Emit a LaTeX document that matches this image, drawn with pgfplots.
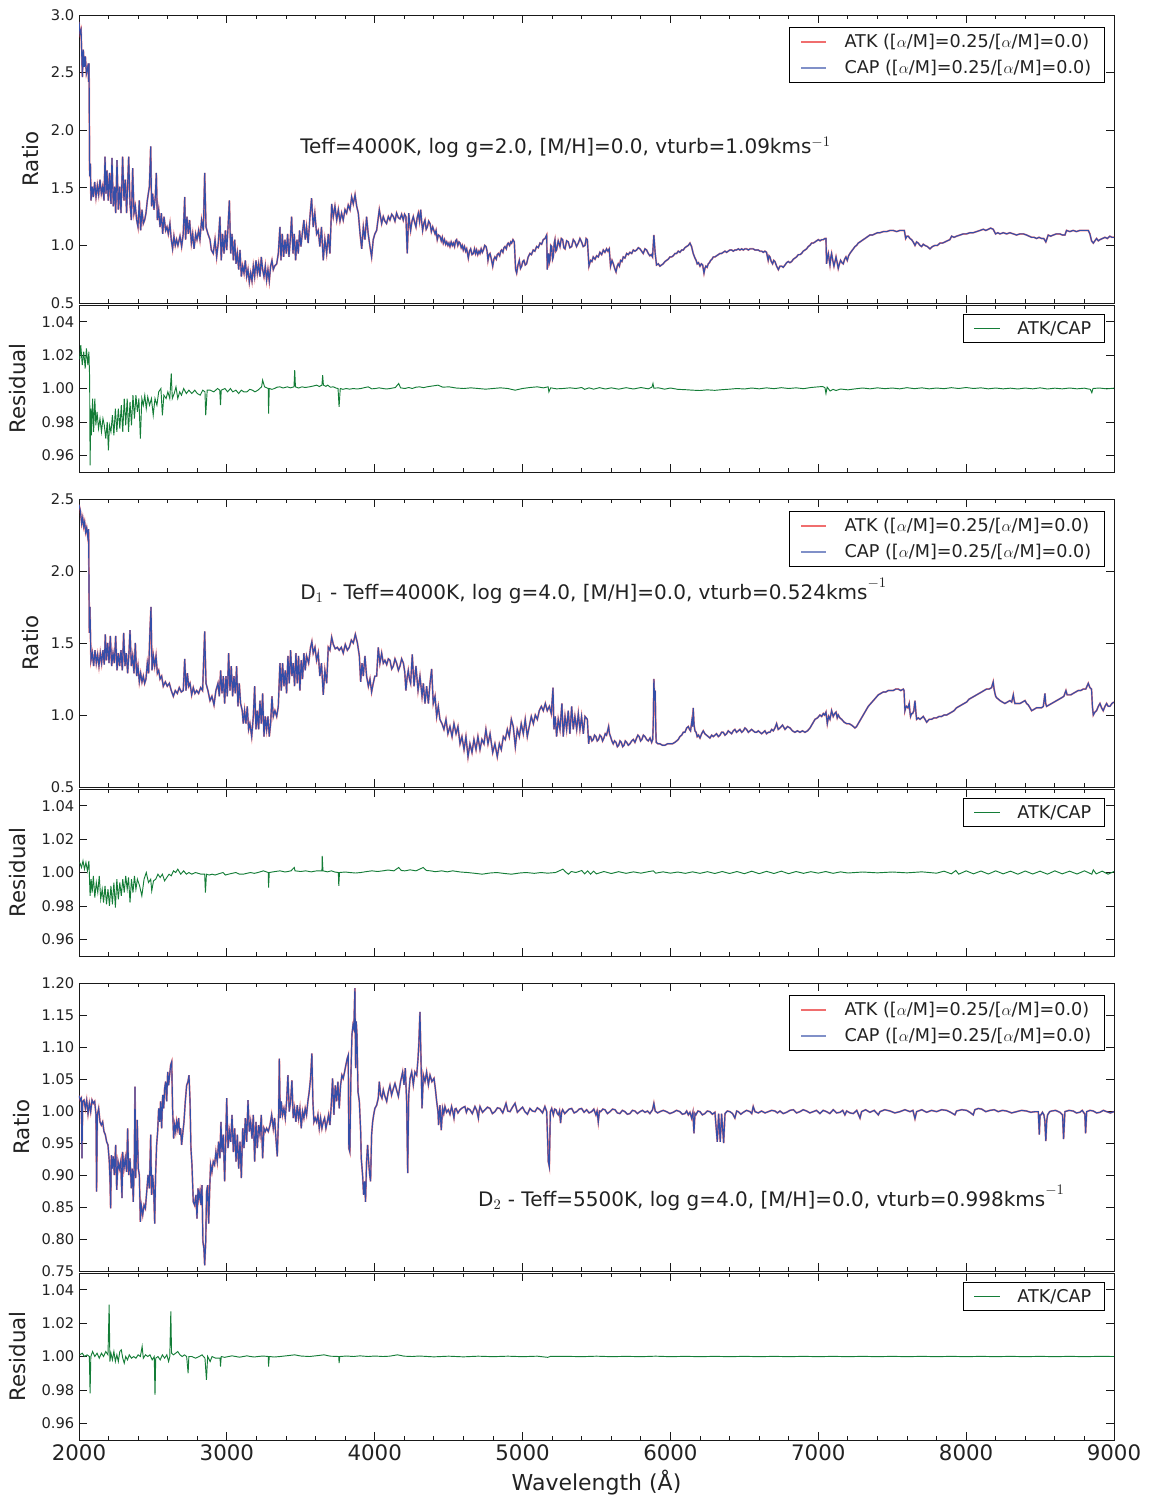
\documentclass[border=0pt]{standalone}
\usepackage{fontspec}
\setmainfont{DejaVu Sans}
\usepackage{pgfplots}
\pgfplotsset{compat=1.18}
\usepackage{pgfplotstable}
\definecolor{atkred}{RGB}{235,40,40}
\definecolor{capblue}{RGB}{52,78,168}
\definecolor{resgreen}{RGB}{20,125,55}
\definecolor{txt}{RGB}{34,34,34}
\definecolor{atklight}{RGB}{240,110,110}
\definecolor{caplight}{RGB}{128,144,200}

% Panel 1: Teff=4000K, log g=2.0
\pgfplotstableread[row sep=\\]{x y\\
2000 2.94\\2007 2.84\\2014 2.87\\2023 2.46\\2029 2.70\\2036 2.55\\2043 2.64\\2050 2.49\\2056 2.52\\2063 2.58\\2065 2.42\\2068 2.58\\2072 1.60\\2077 1.71\\2081 1.39\\2090 1.51\\2097 1.42\\2106 1.55\\2115 1.42\\2124 1.52\\2133 1.44\\2142 1.57\\2151 1.45\\2160 1.51\\2169 1.39\\2176 1.77\\2183 1.45\\2189 1.65\\2198 1.39\\2207 1.63\\2216 1.36\\2223 1.76\\2232 1.34\\2241 1.51\\2248 1.28\\2257 1.74\\2266 1.31\\2275 1.51\\2284 1.28\\2295 1.77\\2304 1.39\\2313 1.57\\2322 1.28\\2336 1.77\\2345 1.36\\2354 1.22\\2363 1.67\\2372 1.28\\2381 1.34\\2390 1.22\\2399 1.16\\2408 1.39\\2417 1.13\\2426 1.31\\2435 1.19\\2444 1.22\\2453 1.28\\2462 1.39\\2476 1.51\\2485 1.86\\2491 1.34\\2498 1.45\\2507 1.31\\2516 1.42\\2523 1.63\\2530 1.22\\2539 1.31\\2548 1.16\\2557 1.28\\2566 1.10\\2575 1.25\\2586 1.13\\2595 1.16\\2604 1.10\\2615 1.19\\2624 1.05\\2633 0.97\\2642 1.08\\2651 1.00\\2660 1.05\\2669 1.00\\2683 1.08\\2694 0.99\\2705 1.10\\2715 1.42\\2721 1.05\\2730 1.25\\2739 1.10\\2748 1.22\\2760 1.02\\2769 1.10\\2778 0.97\\2789 1.10\\2798 1.05\\2809 1.13\\2818 1.05\\2829 1.22\\2841 1.13\\2850 1.63\\2859 1.16\\2872 1.10\\2886 1.05\\2895 0.96\\2908 0.93\\2920 1.05\\2931 0.90\\2942 1.02\\2953 1.25\\2962 0.87\\2971 1.10\\2981 0.93\\2990 1.13\\2999 0.96\\3008 1.16\\3017 1.39\\3026 0.93\\3035 1.10\\3044 0.87\\3053 1.05\\3062 0.84\\3071 0.93\\3080 0.79\\3089 0.96\\3098 0.73\\3107 0.82\\3116 0.76\\3125 0.87\\3134 0.73\\3143 0.79\\3152 0.68\\3161 0.76\\3170 0.69\\3179 0.82\\3188 0.73\\3197 0.87\\3206 0.76\\3215 0.84\\3224 0.73\\3233 0.90\\3242 0.79\\3251 0.73\\3260 0.82\\3269 0.70\\3278 0.79\\3287 0.69\\3296 0.82\\3305 0.87\\3314 0.79\\3323 0.82\\3337 0.84\\3348 0.93\\3359 1.16\\3366 0.87\\3375 1.10\\3384 0.90\\3393 1.05\\3402 0.93\\3411 1.10\\3420 0.90\\3429 1.05\\3438 1.25\\3447 0.93\\3456 1.10\\3465 0.87\\3474 1.05\\3483 0.93\\3492 1.13\\3501 0.99\\3510 1.10\\3521 1.22\\3530 1.05\\3539 1.16\\3550 1.02\\3562 1.25\\3573 1.41\\3584 1.16\\3595 1.28\\3607 1.10\\3618 1.13\\3629 0.99\\3640 1.16\\3652 0.87\\3663 1.05\\3675 0.93\\3686 1.10\\3697 0.93\\3709 1.36\\3720 1.25\\3731 1.34\\3743 1.22\\3754 1.31\\3765 1.21\\3776 1.28\\3787 1.22\\3799 1.31\\3810 1.28\\3821 1.35\\3833 1.31\\3844 1.42\\3855 1.36\\3867 1.44\\3878 1.34\\3889 1.28\\3901 1.10\\3912 0.97\\3923 1.16\\3934 1.05\\3945 1.25\\3956 1.10\\3968 0.99\\3979 0.90\\3990 1.05\\4001 1.10\\4013 1.13\\4031 1.31\\4047 1.19\\4058 1.25\\4069 1.21\\4080 1.19\\4092 1.25\\4103 1.22\\4115 1.27\\4126 1.25\\4137 1.21\\4148 1.28\\4160 1.24\\4171 1.23\\4182 1.27\\
4193 1.22\\4202 1.27\\4211 1.25\\4220 0.93\\4230 1.28\\4236 1.20\\4243 1.13\\4252 1.21\\4261 1.25\\4270 1.20\\4279 1.16\\4287 1.24\\4295 1.28\\4303 1.21\\4311 1.31\\4318 1.20\\4324 1.13\\4332 1.19\\4340 1.22\\4348 1.14\\4356 1.16\\4365 1.21\\4374 1.19\\4383 1.12\\4392 1.16\\4400 1.13\\4408 1.10\\4415 1.13\\4423 1.05\\4431 1.09\\4441 1.08\\4450 1.04\\4457 1.07\\4464 1.02\\4472 1.05\\4480 1.01\\4487 1.03\\4495 1.00\\4502 1.02\\4509 0.99\\4517 1.03\\4525 1.00\\4532 1.02\\4540 0.99\\4547 1.04\\4554 1.05\\4562 1.00\\4570 1.03\\4577 1.02\\4585 0.98\\4592 1.00\\4599 0.96\\4607 0.99\\4615 0.95\\4622 0.97\\4633 0.89\\4641 0.95\\4649 0.97\\4658 0.92\\4667 0.93\\4675 0.97\\4682 0.93\\4689 0.96\\4697 0.92\\4705 0.95\\4712 0.93\\4720 0.97\\4728 0.94\\4735 0.96\\4744 1.00\\4753 0.99\\4760 0.95\\4766 0.87\\4773 0.92\\4780 0.93\\4789 0.88\\4798 0.82\\4806 0.88\\4813 0.90\\4822 0.88\\4829 0.92\\4836 0.93\\4845 0.91\\4852 0.95\\4858 0.96\\4867 0.94\\4874 0.98\\4881 0.99\\4890 0.97\\4897 1.01\\4903 1.02\\4912 1.00\\4920 1.03\\4926 1.02\\4935 1.05\\4944 1.03\\4953 0.79\\4960 0.76\\4969 0.83\\4978 0.87\\4986 0.80\\4994 0.82\\5001 0.86\\5009 0.87\\5018 0.83\\5027 0.84\\5038 0.90\\5050 0.93\\5060 0.92\\5072 0.96\\5083 0.95\\5095 0.99\\5106 0.98\\5118 1.02\\5129 1.01\\5140 1.05\\5152 1.06\\5163 1.09\\5167 0.79\\5172 0.88\\5176 0.93\\5181 0.85\\5185 0.87\\5191 1.00\\5197 0.99\\5203 0.88\\5208 0.90\\5214 1.02\\5219 1.05\\5225 0.95\\5230 0.96\\5241 1.04\\5253 0.99\\5262 1.06\\5271 1.05\\5279 0.98\\5287 0.97\\5298 1.04\\5309 1.03\\5320 0.98\\5332 0.99\\5343 1.05\\5354 1.03\\5365 0.99\\5377 1.02\\5388 1.06\\5399 1.03\\5410 0.99\\5422 1.00\\5430 1.06\\5438 1.05\\5449 0.82\\5460 0.87\\5469 0.86\\5478 0.90\\5490 0.88\\5501 0.91\\5512 0.90\\5523 0.94\\5535 0.92\\5546 0.96\\5557 0.94\\5568 0.97\\5577 0.95\\5586 0.97\\5595 0.82\\5605 0.87\\5614 0.84\\5623 0.80\\5632 0.77\\5640 0.82\\5647 0.84\\5655 0.82\\5663 0.87\\5672 0.86\\5681 0.90\\5692 0.89\\5704 0.93\\5715 0.92\\5726 0.94\\5738 0.93\\5749 0.96\\5760 0.95\\5771 0.96\\5783 0.98\\5794 0.97\\5805 0.95\\5816 0.93\\5828 0.97\\5839 0.96\\5850 0.93\\5861 0.91\\5870 0.92\\5879 0.90\\5888 1.09\\5897 0.93\\5906 0.83\\5918 0.84\\5929 0.82\\5940 0.83\\5951 0.84\\5963 0.86\\5974 0.87\\5985 0.88\\5997 0.90\\6008 0.90\\6019 0.91\\6031 0.93\\6042 0.93\\6053 0.95\\6064 0.94\\6076 0.96\\6087 0.96\\6098 0.98\\6109 0.99\\6121 1.00\\6132 1.02\\6143 0.99\\6154 0.93\\6160 0.91\\6166 0.89\\6174 0.87\\6181 0.84\\6190 0.85\\6200 0.82\\6209 0.84\\6218 0.83\\6227 0.76\\6233 0.80\\6240 0.82\\6248 0.81\\6256 0.84\\6264 0.85\\6272 0.87\\6281 0.88\\6290 0.90\\6301 0.90\\6312 0.91\\6324 0.92\\6335 0.93\\6346 0.93\\6357 0.94\\6369 0.95\\6380 0.94\\6391 0.95\\6402 0.96\\6414 0.96\\6425 0.95\\6436 0.96\\6447 0.96\\6459 0.97\\6470 0.96\\6482 0.97\\6493 0.96\\6504 0.97\\6515 0.97\\6527 0.96\\6538 0.97\\6549 0.97\\6560 0.97\\6572 0.96\\6583 0.96\\6594 0.96\\6605 0.95\\6617 0.95\\6628 0.94\\6639 0.95\\6650 0.94\\6661 0.87\\6667 0.91\\6673 0.90\\6682 0.86\\6691 0.84\\6699 0.87\\6707 0.86\\6718 0.82\\
6730 0.79\\6741 0.82\\6752 0.82\\6763 0.81\\6775 0.83\\6786 0.85\\6797 0.86\\6808 0.85\\6820 0.86\\6831 0.88\\6842 0.89\\6853 0.90\\6865 0.92\\6876 0.92\\6887 0.93\\6898 0.95\\6910 0.96\\6921 0.97\\6932 0.99\\6943 1.00\\6955 1.02\\6966 1.02\\6978 1.03\\6989 1.04\\7000 1.05\\7012 1.04\\7023 1.05\\7034 1.05\\7045 1.06\\7052 1.06\\7056 0.84\\7062 0.90\\7068 0.93\\7073 0.88\\7079 0.83\\7085 0.90\\7090 0.93\\7098 0.87\\7106 0.82\\7113 0.86\\7120 0.90\\7128 0.85\\7135 0.80\\7143 0.84\\7151 0.87\\7160 0.85\\7169 0.84\\7178 0.88\\7187 0.90\\7196 0.87\\7205 0.91\\7214 0.93\\7225 0.95\\7237 0.97\\7248 0.99\\7259 1.00\\7270 1.02\\7282 1.03\\7293 1.04\\7304 1.05\\7316 1.06\\7327 1.07\\7338 1.08\\7349 1.09\\7366 1.09\\7383 1.10\\7400 1.11\\7417 1.11\\7440 1.12\\7462 1.12\\7485 1.13\\7507 1.13\\7530 1.12\\7552 1.13\\7567 1.13\\7582 1.13\\7591 1.06\\7600 1.08\\7609 1.08\\7620 1.06\\7631 1.05\\7642 1.03\\7654 1.00\\7665 1.03\\7676 1.02\\7688 1.00\\7699 0.99\\7710 1.01\\7721 1.00\\7738 0.99\\7755 0.97\\7772 0.99\\7789 1.00\\7806 1.00\\7823 1.02\\7840 1.02\\7857 1.03\\7873 1.04\\7890 1.05\\7902 1.08\\7918 1.07\\7935 1.08\\7958 1.09\\7981 1.10\\8003 1.10\\8026 1.11\\8048 1.11\\8071 1.12\\8094 1.13\\8116 1.14\\8133 1.13\\8150 1.14\\8166 1.15\\8183 1.14\\8199 1.10\\8214 1.11\\8229 1.10\\8251 1.11\\8274 1.10\\8296 1.11\\8319 1.10\\8341 1.09\\8364 1.10\\8386 1.10\\8409 1.09\\8426 1.08\\8443 1.07\\8460 1.07\\8476 1.06\\8493 1.07\\8510 1.06\\8525 1.06\\8539 1.03\\8555 1.09\\8572 1.08\\8589 1.09\\8611 1.10\\8634 1.10\\8651 1.09\\8668 1.09\\8679 1.13\\8701 1.12\\8724 1.13\\8746 1.12\\8769 1.13\\8797 1.13\\8826 1.13\\8837 1.10\\8848 1.04\\8860 1.02\\8871 1.04\\8882 1.06\\8894 1.04\\8905 1.05\\8922 1.06\\8939 1.07\\8955 1.06\\8972 1.08\\8987 1.07\\9002 1.07\\
}\tA

% Panel 2: residual ATK/CAP
\pgfplotstableread[row sep=\\]{x y\\
2005 1.0176\\2012 1.026\\2022 1.014\\2032 1.022\\2042 1.012\\2050 1.024\\2060 1.014\\2067 1.022\\2072 1.006\\2075 0.954\\2080 0.988\\2084 0.972\\2092 0.994\\2099 0.974\\2107 0.994\\2114 0.978\\2122 0.986\\2132 0.976\\2142 0.982\\2152 0.974\\2162 0.982\\2171 0.978\\2181 0.970\\2191 0.980\\2199 0.963\\2206 0.978\\2216 0.974\\2226 0.984\\2236 0.972\\2246 0.988\\2256 0.974\\2266 0.988\\2276 0.976\\2286 0.990\\2296 0.974\\2306 0.994\\2316 0.978\\2326 0.994\\2335 0.974\\2345 0.992\\2355 0.978\\2365 0.996\\2375 0.982\\2385 0.996\\2395 0.986\\2405 0.994\\2415 0.970\\2425 0.994\\2435 0.990\\2445 0.996\\2455 0.988\\2465 0.995\\2477 0.990\\2490 0.994\\2502 0.984\\2514 0.994\\2527 0.990\\2539 0.998\\2554 1.000\\2564 0.984\\2574 0.996\\2589 0.994\\2601 0.998\\2614 0.994\\2624 1.009\\2631 0.994\\2644 0.997\\2656 1.001\\2668 0.994\\2681 0.998\\2693 0.996\\2708 1.000\\2726 0.997\\2743 0.999\\2763 0.997\\2783 0.999\\2800 0.997\\2820 0.996\\2837 0.999\\2852 0.998\\2857 0.984\\2867 0.999\\2887 0.999\\2912 0.998\\2937 1.000\\2952 0.999\\2957 0.990\\2962 0.999\\2987 1.000\\3005 0.998\\3024 1.000\\3040 0.998\\3061 0.999\\3080 0.997\\3098 0.999\\3115 0.998\\3136 0.998\\3155 0.9995\\3173 0.999\\3190 0.998\\3210 0.999\\3235 1.001\\3242 1.005\\3255 1.001\\3280 1.000\\3282 0.985\\3287 1.000\\3305 0.9995\\3322 1.000\\3340 1.0008\\3359 1.001\\3380 1.0003\\3409 1.001\\3430 1.0004\\3454 1.001\\3459 1.011\\3464 1.001\\3485 1.0003\\3508 1.001\\3530 1.0006\\3558 1.001\\3585 1.0015\\3608 1.002\\3625 1.0012\\3643 1.002\\3648 1.008\\3653 1.002\\3670 1.0013\\3682 1.002\\3700 1.0008\\3720 1.001\\3740 1.0002\\3752 1.000\\3759 0.989\\3767 1.000\\3785 0.9995\\3807 1.000\\3830 0.9996\\3856 1.000\\3880 0.9997\\3906 1.000\\3930 1.0005\\3956 1.001\\3980 0.9998\\4005 1.000\\4030 1.0004\\4055 1.000\\4080 0.9997\\4105 1.000\\4140 1.0006\\4162 1.003\\4175 1.0004\\4204 1.000\\4230 1.0006\\4254 1.000\\4280 1.0008\\4304 1.001\\4330 1.0005\\4353 1.001\\4390 1.0015\\4428 1.002\\4460 1.0008\\4502 1.001\\4550 1.0003\\4602 1.000\\4650 1.0004\\4701 1.000\\4750 0.9996\\4800 1.000\\4850 1.0004\\4900 1.000\\4950 0.999\\4999 1.000\\5050 1.0006\\5099 1.001\\5140 1.0004\\5173 1.001\\5178 0.998\\5190 1.0004\\5230 0.9998\\5273 1.000\\5320 1.0004\\5360 1.000\\
5400 1.0006\\5420 0.9995\\5450 1.0004\\5480 0.9996\\5520 1.0005\\5560 0.9997\\5600 1.0004\\5650 0.9996\\5700 1.0005\\5750 0.9997\\5800 1.0006\\5850 0.9998\\5875 1.0008\\5882 1.003\\5888 1.0002\\5920 1.0004\\5960 0.9996\\6000 1.0003\\6050 0.9995\\6100 0.9993\\6150 0.9990\\6200 0.9988\\6250 0.9992\\6300 0.9989\\6350 0.9993\\6400 0.9996\\6450 1.0000\\6500 0.9997\\6550 1.0003\\6600 0.9998\\6650 1.0004\\6700 0.9999\\6750 1.0005\\6800 1.0000\\6850 1.0004\\6900 0.9999\\6950 1.0006\\7000 1.0010\\7030 1.0012\\7045 1.0005\\7052 0.9970\\7060 1.0008\\7080 0.9985\\7100 0.9995\\7120 0.9988\\7150 0.9997\\7200 0.9992\\7250 0.9998\\7300 1.0003\\7350 0.9998\\7400 1.0004\\7450 0.9999\\7500 1.0003\\7550 0.9998\\7600 1.0005\\7650 0.9999\\7700 1.0004\\7750 0.9998\\7800 1.0003\\7850 0.9999\\7900 1.0005\\7950 1.0000\\8000 1.0006\\8050 1.0000\\8100 1.0004\\8150 0.9998\\8200 1.0003\\8250 0.9998\\8300 1.0002\\8350 0.9997\\8400 1.0003\\8450 0.9998\\8500 1.0004\\8550 0.9997\\8600 1.0002\\8650 0.9998\\8700 1.0003\\8750 0.9998\\8800 1.0002\\8840 0.9995\\8850 0.9975\\8858 1.0000\\8900 1.0003\\8950 0.9998\\9000 1.0002\\
}\tB

% Panel 3: D1 - Teff=4000K, log g=4.0
\pgfplotstableread[row sep=\\]{x y\\
2000 2.46\\2009 2.42\\2018 2.33\\2025 2.37\\2032 2.31\\2038 2.34\\2045 2.27\\2052 2.30\\2059 2.24\\2065 2.29\\2070 1.57\\2074 1.75\\2081 1.38\\2090 1.43\\2099 1.34\\2108 1.45\\2117 1.36\\2126 1.42\\2135 1.34\\2144 1.43\\2153 1.36\\2162 1.45\\2171 1.35\\2178 1.56\\2185 1.38\\2194 1.50\\2203 1.36\\2212 1.55\\2221 1.34\\2230 1.43\\2239 1.36\\2248 1.55\\2257 1.31\\2266 1.43\\2275 1.34\\2284 1.45\\2293 1.31\\2302 1.57\\2311 1.34\\2320 1.43\\2329 1.29\\2338 1.43\\2345 1.59\\2354 1.34\\2363 1.41\\2372 1.29\\2381 1.50\\2390 1.27\\2399 1.34\\2408 1.23\\2417 1.29\\2426 1.23\\2435 1.27\\2444 1.22\\2453 1.25\\2462 1.36\\2471 1.29\\2480 1.59\\2487 1.75\\2494 1.31\\2503 1.41\\2512 1.34\\2521 1.41\\2530 1.29\\2539 1.31\\2548 1.25\\2559 1.27\\2570 1.20\\2584 1.23\\2597 1.20\\2611 1.22\\2624 1.17\\2638 1.13\\2651 1.17\\2665 1.15\\2678 1.19\\2692 1.16\\2705 1.17\\2715 1.39\\2724 1.17\\2733 1.29\\2742 1.20\\2751 1.22\\2762 1.14\\2773 1.19\\2784 1.15\\2796 1.17\\2809 1.15\\2823 1.19\\2836 1.17\\2850 1.58\\2859 1.22\\2872 1.17\\2886 1.10\\2899 1.13\\2913 1.07\\2926 1.17\\2940 1.22\\2949 1.13\\2958 1.31\\2967 1.15\\2976 1.27\\2985 1.08\\2994 1.27\\3003 1.13\\3012 1.43\\3021 1.17\\3030 1.34\\3039 1.13\\3048 1.27\\3057 1.15\\3066 1.34\\3075 1.06\\3084 1.22\\3093 1.08\\3104 1.03\\3111 0.94\\3120 1.03\\3129 0.94\\3138 1.06\\3147 0.90\\3156 0.94\\3168 0.85\\3179 0.99\\3188 1.20\\3197 0.90\\3206 1.03\\3215 0.90\\3224 1.10\\3233 0.94\\3242 1.15\\3251 0.85\\3260 0.99\\3269 0.90\\3278 0.99\\3287 0.85\\3296 0.94\\3305 1.13\\3314 0.99\\3325 1.03\\3337 0.99\\3348 1.06\\3359 1.36\\3368 1.17\\3377 1.36\\3386 1.20\\3395 1.31\\3404 1.15\\3413 1.41\\3422 1.22\\3431 1.45\\3440 1.27\\3449 1.36\\3458 1.20\\3467 1.43\\3476 1.22\\3485 1.41\\3494 1.17\\3503 1.38\\3512 1.25\\3521 1.43\\3530 1.31\\3539 1.41\\3553 1.36\\3566 1.47\\3575 1.51\\3584 1.43\\3596 1.47\\3607 1.38\\3618 1.43\\3629 1.27\\3640 1.36\\3652 1.14\\3663 1.31\\3675 1.22\\3686 1.47\\3697 1.45\\3709 1.54\\3720 1.49\\3733 1.46\\3747 1.47\\3760 1.45\\3774 1.47\\3787 1.43\\3801 1.49\\3815 1.45\\3828 1.47\\3842 1.52\\3855 1.50\\3869 1.56\\3883 1.50\\3896 1.41\\3905 1.23\\3914 1.36\\3923 1.27\\3934 1.41\\3945 1.27\\3957 1.20\\3968 1.25\\3979 1.16\\3990 1.22\\4001 1.27\\4013 1.27\\4024 1.47\\4035 1.36\\4047 1.43\\4058 1.36\\4069 1.38\\4081 1.35\\4092 1.39\\4103 1.38\\4115 1.32\\4126 1.34\\4137 1.39\\4148 1.36\\4160 1.31\\
4171 1.34\\4182 1.39\\4194 1.36\\4203 1.30\\4211 1.17\\4219 1.26\\4227 1.31\\4235 1.25\\4243 1.22\\4254 1.42\\4266 1.20\\4279 1.34\\4293 1.17\\4306 1.27\\4320 1.13\\4329 1.22\\4340 1.08\\4351 1.20\\4363 1.08\\4374 1.22\\4385 1.32\\4396 1.08\\4408 1.13\\4419 0.99\\4430 1.06\\4441 0.97\\4455 0.94\\4468 0.90\\4482 0.97\\4495 0.87\\4509 0.92\\4523 0.85\\4536 0.94\\4550 0.87\\4563 0.92\\4577 0.80\\4590 0.85\\4604 0.76\\4617 0.85\\4631 0.71\\4644 0.80\\4658 0.74\\4671 0.83\\4685 0.76\\4698 0.85\\4712 0.76\\4725 0.83\\4739 0.80\\4752 0.90\\4766 0.80\\4780 0.87\\4798 0.74\\4813 0.80\\4829 0.71\\4843 0.80\\4856 0.76\\4870 0.85\\4883 0.83\\4897 0.90\\4910 0.85\\4924 0.97\\4937 0.92\\4951 0.78\\4964 0.90\\4978 0.85\\4991 0.94\\5005 0.87\\5018 0.97\\5032 0.85\\5045 0.92\\5059 0.99\\5073 0.94\\5086 1.00\\5100 0.97\\5113 1.03\\5127 1.06\\5140 1.03\\5154 1.08\\5167 1.03\\5181 1.06\\5194 1.01\\5206 1.19\\5212 0.90\\5221 0.99\\5230 0.85\\5241 0.97\\5253 0.90\\5266 1.08\\5275 0.85\\5287 0.99\\5298 0.90\\5309 1.03\\5320 0.87\\5332 1.06\\5343 0.90\\5354 0.99\\5366 0.90\\5377 1.01\\5388 0.90\\5399 0.99\\5411 0.87\\5422 0.99\\5438 0.97\\5447 0.80\\5453 0.85\\5460 0.85\\5469 0.82\\5478 0.83\\5487 0.86\\5496 0.85\\5505 0.82\\5514 0.83\\5523 0.86\\5532 0.85\\5541 0.82\\5550 0.84\\5559 0.87\\5568 0.86\\5575 0.89\\5582 0.92\\5588 0.87\\5595 0.85\\5604 0.82\\5613 0.80\\5622 0.82\\5632 0.81\\5641 0.78\\5650 0.79\\5659 0.82\\5668 0.81\\5677 0.78\\5686 0.79\\5695 0.82\\5704 0.81\\5715 0.79\\5726 0.80\\5738 0.82\\5749 0.83\\5760 0.81\\5771 0.84\\5780 0.86\\5789 0.85\\5798 0.82\\5807 0.83\\5817 0.86\\5828 0.85\\5839 0.83\\5850 0.82\\5862 0.84\\5873 0.81\\5880 0.83\\5884 0.94\\5888 1.25\\5893 1.10\\5897 1.17\\5901 0.90\\5904 0.81\\5916 0.80\\5929 0.80\\5946 0.79\\5963 0.79\\5980 0.80\\5997 0.80\\6013 0.80\\6030 0.81\\6042 0.82\\6053 0.83\\6064 0.85\\6076 0.86\\6087 0.88\\6098 0.88\\6110 0.91\\6121 0.92\\6129 0.90\\6136 0.89\\6145 0.96\\6150 0.92\\6154 1.05\\6160 0.93\\6166 0.89\\6174 0.88\\6181 0.85\\6190 0.86\\6200 0.84\\6211 0.87\\6222 0.89\\6233 0.87\\6244 0.86\\6256 0.85\\6267 0.84\\6279 0.86\\6290 0.85\\6301 0.86\\6312 0.87\\6324 0.85\\6335 0.86\\6346 0.88\\6357 0.88\\6369 0.86\\6380 0.87\\6391 0.89\\6402 0.88\\6414 0.87\\6425 0.89\\6436 0.90\\6447 0.88\\6459 0.89\\6470 0.90\\6482 0.88\\6493 0.89\\6504 0.91\\6515 0.90\\6527 0.88\\6538 0.89\\6549 0.90\\6560 0.89\\6572 0.88\\6583 0.88\\6594 0.89\\6605 0.88\\6617 0.87\\6628 0.88\\6639 0.89\\6650 0.87\\6662 0.88\\6673 0.88\\6685 0.90\\6696 0.89\\6707 0.91\\6718 0.94\\
6729 0.90\\6741 0.91\\6758 0.93\\6775 0.90\\6792 0.92\\6809 0.91\\6825 0.89\\6842 0.88\\6859 0.89\\6876 0.88\\6893 0.89\\6910 0.88\\6927 0.89\\6944 0.91\\6961 0.94\\6978 0.97\\6995 0.98\\7011 1.00\\7023 0.99\\7034 1.01\\7043 1.00\\7052 1.02\\7061 0.94\\7070 0.99\\7079 0.97\\7090 1.03\\7101 0.99\\7111 1.01\\7120 1.02\\7128 0.98\\7135 1.00\\7146 0.98\\7158 0.97\\7175 0.95\\7192 0.94\\7208 0.94\\7225 0.93\\7237 0.92\\7248 0.91\\7259 0.92\\7270 0.94\\7287 0.97\\7304 1.00\\7321 1.03\\7338 1.06\\7355 1.08\\7372 1.10\\7389 1.12\\7406 1.14\\7423 1.15\\7440 1.16\\7457 1.16\\7473 1.17\\7490 1.17\\7507 1.17\\7524 1.18\\7541 1.18\\7558 1.17\\7575 1.18\\7580 1.17\\7586 1.03\\7591 1.05\\7597 1.06\\7606 1.05\\7615 1.08\\7620 1.02\\7624 0.99\\7631 1.01\\7638 1.01\\7646 1.03\\7654 1.10\\7660 1.02\\7665 0.97\\7676 0.98\\7688 0.97\\7699 0.98\\7710 0.99\\7722 0.97\\7733 0.95\\7750 0.97\\7766 0.97\\7783 0.98\\7800 0.98\\7817 0.99\\7834 0.99\\7851 1.00\\7868 1.00\\7885 1.01\\7902 1.02\\7918 1.03\\7935 1.05\\7952 1.06\\7969 1.07\\7986 1.08\\8003 1.09\\8020 1.11\\8037 1.12\\8054 1.13\\8071 1.14\\8088 1.15\\8105 1.16\\8121 1.17\\8138 1.18\\8155 1.18\\8172 1.19\\8183 1.23\\8189 1.18\\8195 1.15\\8200 1.13\\8206 1.12\\8218 1.11\\8229 1.10\\8245 1.09\\8262 1.08\\8279 1.09\\8296 1.10\\8308 1.09\\8319 1.14\\8325 1.10\\8330 1.08\\8347 1.08\\8364 1.08\\8381 1.09\\8398 1.10\\8409 1.08\\8420 1.07\\8432 1.05\\8443 1.03\\8460 1.04\\8476 1.05\\8493 1.05\\8510 1.05\\8522 1.06\\8533 1.15\\8538 1.08\\8544 1.06\\8561 1.07\\8578 1.08\\8595 1.09\\8612 1.10\\8629 1.11\\8646 1.12\\8661 1.13\\8675 1.17\\8683 1.14\\8691 1.14\\8708 1.14\\8724 1.15\\8741 1.16\\8758 1.17\\8775 1.17\\8792 1.18\\8809 1.18\\8826 1.22\\8837 1.19\\8848 1.18\\8854 1.06\\8860 1.00\\8871 1.02\\8882 1.03\\8894 1.06\\8905 1.08\\8916 1.05\\8927 1.03\\8939 1.06\\8950 1.08\\8961 1.06\\8972 1.06\\8986 1.08\\8999 1.09\\
}\tC

% Panel 4: residual ATK/CAP
\pgfplotstableread[row sep=\\]{x y\\
2005 1.006\\2017 1.003\\2027 1.007\\2037 1.002\\2047 1.006\\2057 1.001\\2067 1.007\\2075 0.986\\2082 0.996\\2089 0.988\\2097 0.998\\2107 0.985\\2117 0.994\\2127 0.988\\2137 0.998\\2147 0.984\\2157 0.990\\2166 0.982\\2176 0.992\\2186 0.981\\2196 0.990\\2206 0.980\\2216 0.992\\2226 0.981\\2236 0.994\\2246 0.979\\2256 0.996\\2266 0.984\\2276 0.994\\2286 0.986\\2296 0.996\\2306 0.988\\2316 0.998\\2326 0.990\\2335 0.997\\2345 0.982\\2355 0.996\\2365 0.988\\2375 0.998\\2385 0.990\\2395 0.996\\2410 0.992\\2425 0.986\\2440 0.996\\2455 1.000\\2470 0.994\\2485 0.996\\2492 0.989\\2504 0.995\\2519 0.996\\2534 0.999\\2549 0.997\\2564 0.999\\2579 0.995\\2594 0.997\\2609 0.999\\2624 0.998\\2639 1.001\\2654 1.000\\2668 1.002\\2688 0.999\\2708 1.001\\2726 0.999\\2743 1.000\\2763 0.999\\2788 1.000\\2825 0.999\\2850 0.999\\2855 0.988\\2862 0.999\\2880 0.9985\\2900 0.999\\2920 0.9985\\2937 0.999\\2955 0.9995\\2974 1.000\\2990 0.9985\\3011 0.999\\3035 0.9995\\3061 1.000\\3085 0.999\\3111 0.999\\3135 0.9995\\3160 1.000\\3185 0.9995\\3210 1.000\\3247 1.001\\3280 1.000\\3282 0.991\\3287 1.000\\3320 1.0005\\3359 1.001\\3395 1.0003\\3434 1.001\\3456 1.003\\3461 1.001\\3500 1.0006\\3533 1.001\\3570 1.0004\\3608 1.001\\3643 1.001\\3645 1.010\\3650 1.001\\3680 1.0004\\3707 1.001\\3730 1.0003\\3754 1.000\\3757 0.992\\3762 1.000\\3800 1.0003\\3831 1.000\\3870 0.9997\\3906 1.000\\3940 1.0005\\3981 1.001\\4020 1.0006\\4055 1.001\\4090 1.0015\\4130 1.001\\4162 1.003\\4180 1.0012\\4204 1.001\\4240 1.0016\\4279 1.001\\4328 1.003\\4350 1.0012\\4378 1.001\\4410 1.0005\\4453 1.001\\4490 1.0004\\4527 1.001\\4580 1.0003\\4627 1.000\\4680 0.9995\\4726 0.999\\4780 0.9997\\4826 1.000\\4880 0.9994\\4925 0.999\\4980 0.9997\\5024 1.000\\5080 0.9995\\5124 1.000\\5170 0.9996\\5223 1.000\\5273 1.002\\5290 1.0004\\5310 0.999\\5330 1.0006\\5360 1.000\\
5400 1.0012\\5420 0.9992\\5440 1.0010\\5460 0.9990\\5480 1.0008\\5500 0.9992\\5550 1.0006\\5600 0.9994\\5650 1.0005\\5700 0.9995\\5750 1.0004\\5800 0.9996\\5850 1.0005\\5885 1.0010\\5900 0.9996\\5950 1.0004\\6000 0.9996\\6050 1.0003\\6100 0.9995\\6150 1.0004\\6200 0.9995\\6250 1.0005\\6300 0.9994\\6350 1.0006\\6400 0.9994\\6450 1.0006\\6500 0.9993\\6550 1.0008\\6600 0.9993\\6650 1.0007\\6700 0.9994\\6750 1.0008\\6800 0.9993\\6850 1.0006\\6900 0.9995\\6950 1.0005\\7000 0.9996\\7050 1.0006\\7100 0.9995\\7150 1.0004\\7200 0.9997\\7300 1.0003\\7400 0.9998\\7500 1.0003\\7600 0.9998\\7700 1.0004\\7800 0.9996\\7850 1.0008\\7900 0.9992\\7930 1.0012\\7950 0.9990\\8000 1.0010\\8050 0.9992\\8100 1.0009\\8150 0.9991\\8200 1.0010\\8250 0.9992\\8300 1.0008\\8350 0.9990\\8400 1.0009\\8450 0.9991\\8500 1.0008\\8550 0.9990\\8600 1.0010\\8650 0.9992\\8700 1.0008\\8750 0.9991\\8800 1.0010\\8850 0.9990\\8860 1.0016\\8880 0.9992\\8920 1.0008\\8960 0.9990\\9000 1.0006\\
}\tD

% Panel 5: D2 - Teff=5500K, log g=4.0
\pgfplotstableread[row sep=\\]{x y\\
2000 1.024\\2009 1.017\\2016 1.020\\2020 0.926\\2025 1.015\\2034 1.017\\2043 1.004\\2052 1.017\\2061 0.996\\2070 1.012\\2079 0.999\\2088 1.017\\2097 1.012\\2106 1.015\\2115 0.994\\2119 0.874\\2124 0.994\\2133 1.004\\2142 0.983\\2151 0.978\\2160 0.983\\2169 0.968\\2178 0.963\\2187 0.952\\2196 0.947\\2205 0.921\\2210 0.890\\2214 0.848\\2219 0.931\\2225 0.910\\2232 0.929\\2239 0.900\\2248 0.947\\2255 0.877\\2264 0.921\\2273 0.910\\2282 0.921\\2291 0.864\\2295 0.936\\2304 0.910\\2313 0.926\\2322 0.905\\2329 0.973\\2336 0.900\\2345 0.926\\2354 0.879\\2361 0.910\\2367 0.858\\2374 0.921\\2379 1.038\\2383 0.895\\2390 0.942\\2394 0.986\\2401 0.910\\2408 0.900\\2415 0.827\\2421 0.853\\2431 0.838\\2440 0.853\\2449 0.848\\2458 0.874\\2467 0.900\\2476 0.879\\2485 0.963\\2491 0.869\\2498 0.900\\2505 0.879\\2512 0.824\\2518 0.900\\2525 0.947\\2532 0.968\\2539 1.004\\2546 0.983\\2552 1.015\\2559 0.973\\2566 1.025\\2573 1.004\\2579 1.035\\2586 1.046\\2593 1.015\\2600 1.061\\2606 1.040\\2613 1.056\\2620 1.072\\2627 1.077\\2633 1.004\\2640 0.957\\2647 0.978\\2654 0.968\\2660 0.983\\2667 0.973\\2674 0.989\\2681 0.963\\2687 0.973\\2694 0.947\\2701 0.963\\2710 0.983\\2719 1.015\\2728 1.040\\2737 1.046\\2744 1.056\\2751 1.015\\2757 0.942\\2764 0.916\\2773 0.858\\2782 0.853\\2791 0.869\\2798 0.832\\2805 0.879\\2811 0.864\\2818 0.874\\2825 0.853\\2832 0.884\\2838 0.796\\2845 0.785\\2850 0.759\\2857 0.796\\2863 0.874\\2870 0.884\\2877 0.824\\2884 0.879\\2890 0.916\\2899 0.905\\2908 0.921\\2917 0.916\\2926 0.936\\2935 0.921\\2944 0.952\\2953 0.926\\2960 0.983\\2967 0.936\\2976 0.963\\2985 0.890\\2992 0.952\\2999 1.020\\3008 0.942\\3017 0.968\\3026 0.952\\3035 0.994\\3044 0.936\\3053 0.973\\3062 0.921\\3071 0.963\\3080 0.910\\3089 0.952\\3098 0.895\\3107 0.973\\3116 0.942\\3125 0.989\\3134 0.952\\3143 1.017\\3152 0.968\\3161 0.983\\3170 0.957\\3179 0.994\\3188 0.921\\3197 0.983\\3206 0.942\\3215 0.978\\3224 0.963\\3233 0.994\\3242 0.926\\3251 0.973\\3260 0.968\\3269 0.973\\3280 0.968\\3292 0.978\\3303 0.994\\3314 0.973\\3323 0.989\\3332 0.957\\3341 0.929\\3350 0.994\\3355 1.082\\3361 0.989\\3368 1.015\\3377 0.994\\3386 1.004\\3395 0.989\\3404 1.015\\3413 1.056\\3422 0.999\\3431 1.015\\3440 1.048\\3449 0.989\\3458 1.004\\3467 0.983\\3476 1.009\\3485 0.989\\3494 1.004\\3503 0.973\\3512 0.999\\3521 0.989\\3530 1.004\\3539 0.994\\3548 1.015\\3557 1.030\\3566 1.051\\3575 1.090\\3582 1.015\\3589 0.983\\3598 0.989\\3607 0.983\\3616 0.994\\3625 0.973\\3634 0.989\\3643 0.973\\3652 0.983\\3661 0.989\\3670 0.973\\3679 0.983\\3688 0.994\\3697 0.978\\3706 1.009\\3715 1.051\\3724 0.994\\3733 1.040\\3742 1.015\\3751 1.046\\3760 1.004\\3769 1.040\\3778 1.056\\3787 1.051\\3796 1.061\\3805 1.072\\3814 1.082\\3821 1.087\\3825 0.942\\3832 0.936\\3839 1.056\\3846 1.119\\3853 1.134\\3859 1.129\\3866 1.192\\3871 1.067\\3875 1.140\\3880 1.119\\3887 1.030\\3896 1.015\\3905 0.968\\3909 0.926\\3918 0.900\\3925 0.869\\3932 0.890\\3938 0.858\\3945 0.921\\3952 0.947\\3959 0.921\\3966 0.900\\3972 0.890\\3979 0.963\\3986 0.983\\3993 0.994\\4001 1.004\\4013 1.009\\4024 1.020\\4031 1.046\\4040 1.025\\4049 1.020\\4058 1.033\\4069 1.023\\4081 1.015\\4092 1.030\\4103 1.040\\4114 1.025\\4126 1.035\\4137 1.043\\4148 1.033\\4160 1.023\\
4175 1.046\\4189 1.061\\4198 1.041\\4207 1.067\\4216 1.015\\4223 0.903\\4230 1.025\\4239 1.051\\4250 1.061\\4261 1.041\\4272 1.061\\4284 1.056\\4293 1.082\\4299 1.108\\4306 1.155\\4313 1.082\\4320 1.004\\4329 1.056\\4340 1.046\\4351 1.061\\4363 1.041\\4374 1.056\\4387 1.046\\4401 1.051\\4410 1.035\\4419 1.015\\4428 0.999\\4432 0.978\\4441 1.009\\4450 0.970\\4459 1.004\\4467 0.996\\4475 1.007\\4486 0.998\\4498 1.002\\4509 0.995\\4520 1.007\\4528 0.999\\4536 0.989\\4543 1.003\\4550 1.004\\4563 0.997\\4577 1.002\\4593 1.005\\4610 1.007\\4620 0.998\\4630 1.004\\4644 1.002\\4660 0.996\\4678 1.007\\4690 1.001\\4701 0.989\\4706 1.000\\4712 1.007\\4729 0.998\\4746 1.002\\4763 1.006\\4780 1.004\\4796 0.996\\4813 0.999\\4830 1.005\\4847 1.004\\4866 0.997\\4888 1.012\\4900 1.000\\4915 0.999\\4932 1.006\\4949 1.012\\4965 0.998\\4982 1.002\\5000 1.006\\5016 0.999\\5033 0.995\\5050 1.004\\5067 1.000\\5084 0.999\\5100 1.005\\5118 1.002\\5135 0.997\\5151 1.007\\5163 0.999\\5170 0.952\\5174 0.921\\5181 0.913\\5188 0.999\\5197 1.004\\5208 0.994\\5217 1.003\\5226 1.002\\5235 0.996\\5242 0.994\\5250 1.000\\5257 0.981\\5264 0.998\\5271 1.002\\5285 0.996\\5298 0.999\\5315 1.003\\5332 1.004\\5349 0.997\\5366 0.999\\5383 1.003\\5399 1.004\\5416 0.998\\5433 1.002\\5450 0.997\\5467 0.999\\5482 1.003\\5496 0.994\\5504 1.000\\5512 0.983\\5520 1.000\\5528 0.999\\5543 1.003\\5557 1.002\\5574 0.996\\5591 0.999\\5608 1.003\\5625 1.002\\5641 0.997\\5658 0.996\\5675 1.001\\5692 0.999\\5709 0.995\\5726 0.996\\5743 1.001\\5760 1.000\\5777 0.996\\5794 0.999\\5811 1.001\\5828 0.998\\5845 1.000\\5861 0.996\\5870 0.999\\5879 1.002\\5888 1.012\\5897 1.000\\5913 0.997\\5929 0.999\\5951 1.001\\5974 0.999\\5996 0.996\\6019 0.998\\6041 1.001\\6064 0.999\\6081 0.995\\6098 0.996\\6110 1.000\\6121 0.994\\6132 0.998\\6143 0.989\\6152 0.998\\6159 0.965\\6166 0.996\\6172 0.994\\6186 1.000\\6200 0.999\\6216 0.994\\6233 0.996\\6250 1.000\\6267 0.999\\6284 0.995\\6301 0.998\\6317 0.952\\6326 0.996\\6337 0.952\\6346 0.996\\6360 0.950\\6369 0.996\\6385 1.000\\6402 0.999\\6420 0.996\\6436 0.989\\6448 1.000\\6459 0.999\\6476 0.995\\6493 0.998\\6515 1.001\\6538 0.999\\6550 0.996\\6560 1.007\\6572 0.999\\6594 0.997\\6616 1.000\\6640 0.997\\6662 0.999\\6685 1.001\\6707 1.000\\6724 0.997\\6741 1.000\\6763 0.996\\6786 0.998\\6808 1.001\\6831 1.002\\6853 0.997\\6876 0.999\\6898 1.002\\6921 1.000\\6943 0.997\\6966 0.999\\6988 1.001\\7011 0.996\\7033 1.001\\7056 0.999\\7078 0.996\\7101 1.002\\7124 0.997\\7147 0.998\\7165 1.001\\7180 0.994\\7192 1.000\\7215 0.997\\7237 0.996\\7260 1.001\\7282 0.989\\7293 0.999\\7320 1.002\\7349 0.998\\7378 1.001\\7406 0.994\\7417 0.999\\7450 1.002\\7485 1.000\\7518 0.997\\7552 0.999\\7586 1.002\\7620 0.999\\7640 1.001\\7654 0.988\\7665 0.999\\7700 1.002\\7733 0.998\\7766 1.001\\7800 0.999\\7834 1.002\\7868 1.001\\7895 0.998\\7924 0.994\\7935 1.000\\7970 1.002\\8003 1.001\\8025 0.998\\8048 0.994\\8059 1.002\\8082 1.004\\8105 1.003\\8133 0.999\\8161 1.001\\8190 1.002\\8217 0.999\\8245 1.001\\8274 1.000\\8308 0.997\\8341 0.999\\8375 1.001\\8409 1.000\\8437 0.998\\8465 0.999\\8488 0.999\\8495 0.963\\8500 0.994\\8506 0.994\\8516 0.998\\8526 0.994\\8532 0.985\\8539 0.953\\8545 0.985\\8551 0.994\\8565 0.999\\8578 1.000\\8605 1.001\\8634 0.998\\8652 0.994\\8659 0.956\\8668 0.999\\8696 1.001\\8724 1.000\\8746 0.997\\8769 0.998\\8785 1.001\\8803 0.995\\8808 0.965\\8815 0.999\\8838 1.001\\8860 1.000\\8883 0.997\\8905 0.998\\8928 1.001\\8950 0.999\\8975 0.997\\9000 0.999\\
}\tE

% Panel 6: residual ATK/CAP
\pgfplotstableread[row sep=\\]{x y\\
2005 1.001\\2022 1.002\\2037 1.000\\2055 1.001\\2070 1.000\\2075 0.978\\2080 1.000\\2092 1.003\\2107 1.000\\2122 1.002\\2137 0.999\\2152 1.002\\2166 1.000\\2181 1.003\\2196 1.001\\2204 1.031\\2209 0.997\\2216 1.002\\2226 0.998\\2236 1.003\\2246 0.997\\2256 1.001\\2266 0.997\\2276 1.003\\2286 1.004\\2296 0.999\\2306 0.996\\2316 1.000\\2328 0.998\\2340 1.001\\2355 0.999\\2370 1.000\\2385 0.999\\2400 1.001\\2415 1.000\\2427 1.006\\2435 0.999\\2450 1.001\\2465 1.000\\2480 1.001\\2495 0.998\\2509 1.000\\2514 0.977\\2519 0.999\\2534 1.000\\2549 0.998\\2564 1.001\\2579 0.999\\2594 1.001\\2606 0.997\\2614 1.000\\2621 1.027\\2626 1.002\\2639 1.001\\2654 1.002\\2668 1.003\\2683 1.001\\2698 1.000\\2713 1.001\\2728 1.000\\2738 0.990\\2743 1.000\\2763 1.000\\2788 0.999\\2813 1.000\\2832 1.001\\2852 0.999\\2862 0.986\\2870 1.000\\2887 0.997\\2900 1.000\\2924 0.999\\2954 0.999\\2957 0.994\\2962 1.000\\2985 0.9995\\3011 1.000\\3035 1.0004\\3061 1.000\\3085 0.9996\\3111 1.000\\3135 1.0004\\3160 1.000\\3185 0.9997\\3210 1.000\\3245 1.0003\\3280 1.000\\3282 0.994\\3287 1.000\\3320 0.9997\\3359 1.000\\3400 1.0004\\3459 1.001\\3500 1.0003\\3558 1.000\\3600 1.0004\\3657 1.001\\3700 1.0002\\3757 1.000\\3759 0.996\\3764 1.000\\3810 1.0003\\3856 1.000\\3900 1.0004\\3956 1.000\\4000 1.0003\\4055 1.000\\4100 1.0002\\4154 1.001\\4200 1.0002\\4254 1.000\\4300 1.0003\\4400 0.9998\\4500 1.0002\\4600 0.9998\\4700 1.0002\\4800 0.9999\\4900 1.0002\\5000 0.9999\\5100 1.0002\\5170 0.9995\\5190 1.0001\\5300 1.0001\\5400 0.9999\\5500 1.0002\\5600 0.9999\\5700 1.0001\\5800 0.9999\\5900 1.0002\\6000 0.9999\\6100 1.0001\\6200 0.9999\\6300 1.0001\\6400 0.9999\\6500 1.0001\\6600 0.9999\\6700 1.0001\\6800 0.9999\\6900 1.0001\\7000 0.9999\\7100 1.0001\\7200 0.9999\\7300 1.0001\\7400 0.9999\\7500 1.0001\\7600 0.9999\\7700 1.0001\\7800 0.9999\\7900 1.0001\\8000 0.9999\\8100 1.0001\\8200 0.9999\\8300 1.0001\\8400 0.9999\\8500 1.0001\\8600 0.9999\\8700 1.0001\\8800 0.9999\\8900 1.0001\\9000 1.0000\\
}\tF

\pgfplotsset{
  base/.style={
    scale only axis, width=776.25pt, xmin=2000, xmax=9000,
    xtick={2000,3000,...,9000}, minor x tick num=4,
    tick align=inside, major tick length=6pt, minor tick length=3pt,
    axis line style={line width=0.65pt, black!90},
    every tick/.style={black!90, line width=0.6pt},
    anchor=north west,
    y tick label style={font=\fontsize{11}{13}\selectfont, color=txt},
    yticklabel style={/pgf/number format/assume math mode=true},
    ylabel style={font=\fontsize{16}{19}\selectfont, color=txt},
    legend cell align=left,
    legend style={draw=black, line width=0.6pt, font=\fontsize{13.2}{15}\selectfont, text=txt,
      anchor=north east, inner xsep=8pt, inner ysep=3pt, row sep=4pt,
      /tikz/every odd column/.append style={column sep=11pt}},
    legend image code/.code={\draw[#1] (0pt,0pt) -- (19pt,0pt);},
  },
  notick/.style={xticklabels={}},
  ratio/.style={base, height=216pt, ylabel={Ratio}, ylabel shift=2pt,
    legend style={at={(0.9913,0.958)}}},
  resid/.style={base, height=125.25pt, ymin=0.95, ymax=1.05, ylabel shift=5pt,
    ytick={0.96,0.98,1.00,1.02,1.04},
    yticklabel style={/pgf/number format/.cd, fixed, fixed zerofill, precision=2},
    ylabel={Residual},
    legend style={at={(0.9913,0.946)}}},
  onedec/.style={yticklabel style={/pgf/number format/.cd, fixed, fixed zerofill, precision=1}},
  atkline/.style={color=atkred, line width=1.3pt, opacity=0.6},
  capline/.style={color=capblue, line width=0.85pt},
  resline/.style={color=resgreen, line width=0.7pt},
  atkleg/.style={color=atklight, line width=1.1pt},
  capleg/.style={color=caplight, line width=1.1pt},
}

\begin{document}
\begin{tikzpicture}
\path[use as bounding box] (0,0) rectangle (864.75pt,-1122pt);

% Panel 1
\begin{axis}[ratio, notick, onedec, at={(59.25pt,-11.25pt)},
  ymin=0.5, ymax=3.0, ytick={0.5,1.0,1.5,2.0,2.5,3.0}]
\addplot[atkline, forget plot] table[x=x,y=y]{\tA};
\addplot[capline, forget plot] table[x=x,y=y]{\tA};
\addlegendimage{atkleg}
\addlegendentry{ATK ([$\alpha$/M]=0.25/[$\alpha$/M]=0.0)}
\addlegendimage{capleg}
\addlegendentry{CAP ([$\alpha$/M]=0.25/[$\alpha$/M]=0.0)}
\node[anchor=base west, inner sep=0pt, font=\fontsize{15}{18}\selectfont, text=txt]
  at (axis cs:3495,1.80) {Teff=4000K, log g=2.0, [M/H]=0.0, vturb=1.09kms$^{-1}$};
\end{axis}

% Panel 2
\begin{axis}[resid, notick, at={(59.25pt,-228.75pt)}]
\addplot[resline] table[x=x,y=y]{\tB};
\addlegendentry{ATK/CAP}
\end{axis}

% Panel 3
\begin{axis}[ratio, notick, onedec, at={(59.25pt,-374.25pt)},
  ymin=0.5, ymax=2.5, ytick={0.5,1.0,1.5,2.0,2.5}]
\addplot[atkline, forget plot] table[x=x,y=y]{\tC};
\addplot[capline, forget plot] table[x=x,y=y]{\tC};
\addlegendimage{atkleg}
\addlegendentry{ATK ([$\alpha$/M]=0.25/[$\alpha$/M]=0.0)}
\addlegendimage{capleg}
\addlegendentry{CAP ([$\alpha$/M]=0.25/[$\alpha$/M]=0.0)}
\node[anchor=base west, inner sep=0pt, font=\fontsize{15}{18}\selectfont, text=txt]
  at (axis cs:3495,1.80) {$\mathrm{D}_1$ - Teff=4000K, log g=4.0, [M/H]=0.0, vturb=0.524kms$^{-1}$};
\end{axis}

% Panel 4
\begin{axis}[resid, notick, at={(59.25pt,-591.75pt)}]
\addplot[resline] table[x=x,y=y]{\tD};
\addlegendentry{ATK/CAP}
\end{axis}

% Panel 5
\begin{axis}[ratio, notick, at={(59.25pt,-737.25pt)},
  ymin=0.75, ymax=1.20, ytick={0.75,0.80,0.85,0.90,0.95,1.00,1.05,1.10,1.15,1.20},
  yticklabel style={/pgf/number format/.cd, fixed, fixed zerofill, precision=2}]
\addplot[atkline, forget plot] table[x=x,y=y]{\tE};
\addplot[capline, forget plot] table[x=x,y=y]{\tE};
\addlegendimage{atkleg}
\addlegendentry{ATK ([$\alpha$/M]=0.25/[$\alpha$/M]=0.0)}
\addlegendimage{capleg}
\addlegendentry{CAP ([$\alpha$/M]=0.25/[$\alpha$/M]=0.0)}
\node[anchor=base west, inner sep=0pt, font=\fontsize{15}{18}\selectfont, text=txt]
  at (axis cs:4698,0.851) {$\mathrm{D}_2$ - Teff=5500K, log g=4.0, [M/H]=0.0, vturb=0.998kms$^{-1}$};
\end{axis}

% Panel 6
\begin{axis}[resid, at={(59.25pt,-954.75pt)},
  x tick label style={font=\fontsize{16}{19}\selectfont, color=txt},
  xticklabel style={/pgf/number format/.cd, assume math mode=true, 1000 sep={}},
  xlabel={Wavelength (Å)},
  xlabel style={font=\fontsize{16.5}{19}\selectfont, color=txt}]
\addplot[resline] table[x=x,y=y]{\tF};
\addlegendentry{ATK/CAP}
\end{axis}
\end{tikzpicture}
\end{document}
